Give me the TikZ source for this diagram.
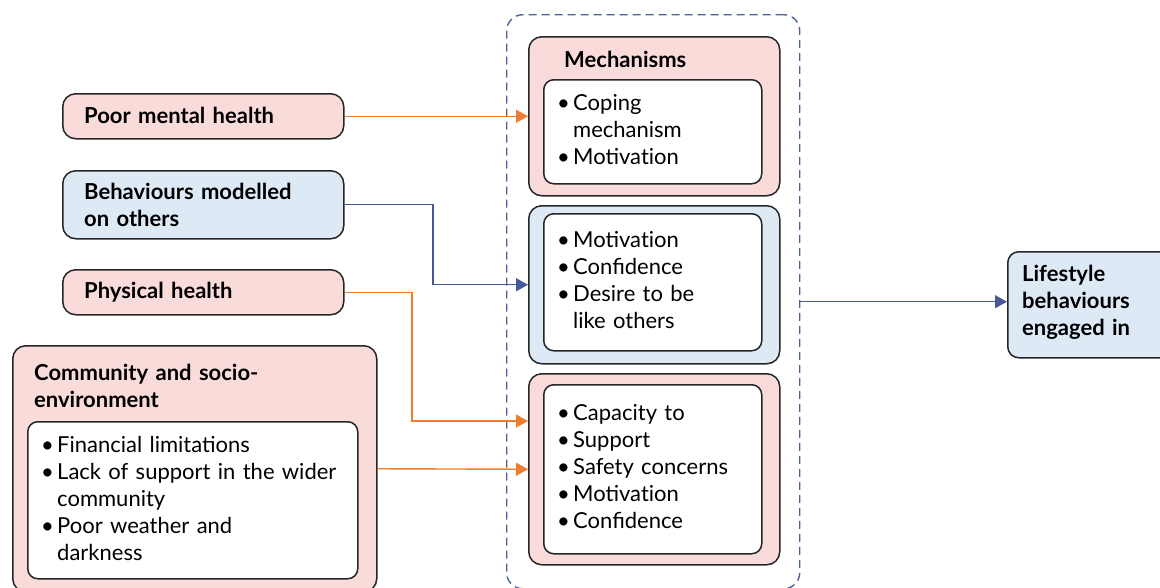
\documentclass[tikz,border=0pt]{standalone}
\usepackage{fontspec}
\setmainfont{Lato}
\usetikzlibrary{arrows.meta}
\definecolor{pinkfill}{HTML}{F9DCDA}
\definecolor{bluefill}{HTML}{DDEAF6}
\definecolor{orangeline}{HTML}{EE7D31}
\definecolor{blueline}{HTML}{46599A}
\definecolor{dashline}{HTML}{4F6296}
\definecolor{edge}{HTML}{262626}
\newcommand\bitem[1]{\makebox[16pt][l]{•}#1}
\newcommand\bcont[1]{\hspace*{16pt}#1}
\newcommand\Motiv{Motivat\kern0pt ion}
\begin{document}
\begin{tikzpicture}[x=1pt,y=-1pt,
  box/.style={draw=edge,line width=1.5pt,rounded corners=13pt,inner sep=0pt,anchor=north west},
  pinkbox/.style={box,fill=pinkfill},
  bluebox/.style={box,fill=bluefill},
  whitebox/.style={box,fill=white,rounded corners=10pt},
  txt/.style={anchor=base west,inner sep=0pt,align=left,font=\fontsize{22}{27}\selectfont,text width=#1},
  txt/.default=340pt,
  btxt/.style={txt=#1,font=\fontsize{22}{27}\selectfont\bfseries},
  btxt/.default=340pt,
  oarrow/.style={draw=orangeline,line width=1.4pt,-{Triangle[length=12pt,width=13pt]}},
  barrow/.style={draw=blueline,line width=1.4pt,-{Triangle[length=12pt,width=13pt]}},
]
\useasboundingbox (0,0) rectangle (1160,587);
% container
\node[draw=dashline,line width=1.4pt,dash pattern=on 8pt off 5pt,rounded corners=16pt,inner sep=0pt,anchor=north west,minimum width=293pt,minimum height=574pt] (cont) at (506,14) {};
% middle boxes
\node[pinkbox,minimum width=251pt,minimum height=159pt] (mech) at (528,36) {};
\node[whitebox,minimum width=218pt,minimum height=104pt] (mechin) at (543,79) {};
\node[btxt] (mecht) at (564,67) {Mechanisms};
\node[txt] (mechl) at (557,110) {\bitem{Coping}\\\bcont{mechanism}\\\bitem{\Motiv}};

\node[bluebox,minimum width=251pt,minimum height=158pt] (mid) at (528,205) {};
\node[whitebox,minimum width=218pt,minimum height=137pt] (midin) at (543,213) {};
\node[txt] (midl) at (557,247) {\bitem{\Motiv}\\\bitem{Confidence}\\\bitem{Desire to be}\\\bcont{like others}};

\node[pinkbox,minimum width=251pt,minimum height=191pt] (low) at (528,373) {};
\node[whitebox,minimum width=218pt,minimum height=169pt] (lowin) at (543,384) {};
\node[txt] (lowl) at (557,420) {\bitem{Capacity to}\\\bitem{Support}\\\bitem{Safety concerns}\\\bitem{\Motiv}\\\bitem{Confidence}};

% left boxes
\node[pinkbox,minimum width=281pt,minimum height=45pt] (pmh) at (62,93) {};
\node[btxt] (pmht) at (84,123) {Poor mental health};
\node[bluebox,minimum width=281pt,minimum height=68pt] (beh) at (62,170) {};
\node[btxt] (beht) at (84,199) {Behaviours modelled\\on others};
\node[pinkbox,minimum width=281pt,minimum height=45pt] (phys) at (62,269) {};
\node[btxt] (physt) at (84,298) {Physical health};
\node[pinkbox,minimum width=364pt,minimum height=246pt] (com) at (12,345) {};
\node[btxt] (comt) at (34,380) {Community and socio-\\environment};
\node[whitebox,minimum width=330pt,minimum height=157pt] (comin) at (27,421) {};
\node[txt] (coml) at (41,452) {\bitem{Financial limitations}\\\bitem{Lack of support in the wider}\\\bcont{community}\\\bitem{Poor weather and}\\\bcont{darkness}};

% right box
\node[bluebox,rounded corners=11pt,minimum width=170pt,minimum height=106pt] (life) at (1007,251) {};
\node[btxt] (lifet) at (1022,281) {Lifestyle\\behaviours\\engaged in};

% connectors
\coordinate (bbend) at (433,0);
\coordinate (pbend) at (412,421);
\draw[oarrow] (pmh.east) -- (pmh.east -| mech.west);
\draw[barrow] (beh.east) -| (bbend |- mid.west) -- (mid.west);
\draw[oarrow] (phys.east) -| (pbend) -- (pbend -| low.west);
\draw[oarrow] (com.east) -- (low.west);
\draw[barrow] (cont.east) -- (cont.east -| life.west);
\end{tikzpicture}
\end{document}
